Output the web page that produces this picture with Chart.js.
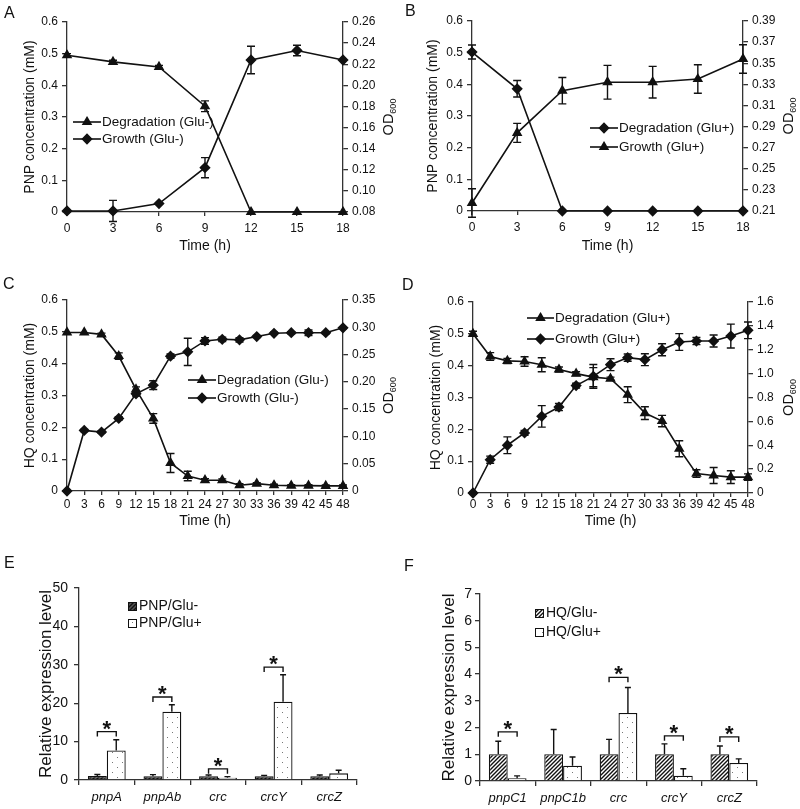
<!DOCTYPE html>
<html>
<head>
<meta charset="utf-8">
<script src="https://cdn.jsdelivr.net/npm/chart.js@4.4.0/dist/chart.umd.min.js"></script>
<style>
  html, body { margin: 0; padding: 0; background: #fff; }
  #fig { position: relative; width: 800px; height: 809px; overflow: hidden;
         font-family: "Liberation Sans", Arial, sans-serif; color: #111; }
  #fig canvas { position: absolute; }
  .tag { position: absolute; font-size: 16px; line-height: 16px; }
</style>
</head>
<body>
<div id="fig">
  <canvas id="chartA" width="400" height="265" style="left:0;top:0"></canvas>
  <canvas id="chartB" width="400" height="265" style="left:400px;top:0"></canvas>
  <canvas id="chartC" width="400" height="270" style="left:0;top:270px"></canvas>
  <canvas id="chartD" width="400" height="270" style="left:400px;top:270px"></canvas>
  <canvas id="chartE" width="400" height="269" style="left:0;top:540px"></canvas>
  <canvas id="chartF" width="400" height="269" style="left:400px;top:540px"></canvas>
  <div class="tag" style="left:4px;top:5px">A</div>
  <div class="tag" style="left:405px;top:3px">B</div>
  <div class="tag" style="left:3px;top:276px">C</div>
  <div class="tag" style="left:402px;top:277px">D</div>
  <div class="tag" style="left:4px;top:555px">E</div>
  <div class="tag" style="left:404px;top:558px">F</div>
</div>
<script>
// time points (h)
const timesAB = [0, 3, 6, 9, 12, 15, 18];
const timesCD = [0, 3, 6, 9, 12, 15, 18, 21, 24, 27, 30, 33, 36, 39, 42, 45, 48];

// A: PNP, Glu-
const degA = [0.495, 0.474, 0.458, 0.334, 0, 0, 0];
const degAErr = [0.005, 0.005, 0.005, 0.017, 0, 0, 0];
const growA = [0.081, 0.081, 0.088, 0.122, 0.224, 0.233, 0.224];
const growAErr = [0, 0.010, 0, 0.0095, 0.013, 0.005, 0];

// B: PNP, Glu+
const degB = [0.502, 0.386, 0, 0, 0, 0, 0];
const degBErr = [0.022, 0.026, 0, 0, 0, 0, 0];
const growB = [0.2176, 0.284, 0.324, 0.332, 0.332, 0.335, 0.354];
const growBErr = [0.0135, 0.009, 0.0125, 0.016, 0.015, 0.0135, 0.0135];

// C: HQ, Glu-
const degC = [0.498, 0.498, 0.492, 0.424, 0.319, 0.228, 0.088, 0.047, 0.034, 0.034, 0.018, 0.023, 0.018, 0.017, 0.017, 0.016, 0.016];
const degCErr = [0, 0, 0.004, 0.01, 0.008, 0.015, 0.03, 0.015, 0.005, 0.004, 0.005, 0.003, 0.003, 0.003, 0.003, 0.003, 0.003];
const growC = [0, 0.111, 0.108, 0.133, 0.178, 0.194, 0.247, 0.255, 0.275, 0.278, 0.277, 0.283, 0.289, 0.29, 0.29, 0.29, 0.299];
const growCErr = [0, 0.002, 0.002, 0.003, 0.004, 0.008, 0.004, 0.025, 0.006, 0.004, 0.004, 0.002, 0.002, 0.002, 0.005, 0.002, 0.002];

// D: HQ, Glu+
const degD = [0.5, 0.429, 0.415, 0.413, 0.403, 0.388, 0.375, 0.364, 0.359, 0.309, 0.251, 0.226, 0.139, 0.061, 0.055, 0.05, 0.05];
const degDErr = [0.008, 0.012, 0.008, 0.015, 0.022, 0.008, 0.006, 0.03, 0.005, 0.025, 0.02, 0.018, 0.025, 0.012, 0.025, 0.02, 0.01];
const growD = [0, 0.279, 0.4, 0.503, 0.642, 0.72, 0.9, 0.977, 1.075, 1.134, 1.117, 1.2, 1.265, 1.273, 1.273, 1.315, 1.363];
const growDErr = [0.01, 0.03, 0.07, 0.02, 0.09, 0.03, 0.02, 0.1, 0.05, 0.03, 0.05, 0.05, 0.07, 0.03, 0.05, 0.1, 0.07];

// E: relative expression, PNP
const genesE = ['pnpA', 'pnpAb', 'crc', 'crcY', 'crcZ'];
const pnpMinus = [1.04, 1.0, 1.0, 1.0, 1.0];
const pnpMinusErr = [0.4, 0.4, 0.3, 0.2, 0.3];
const pnpPlus = [7.7, 17.8, 0.6, 20.4, 1.73];
const pnpPlusErr = [2.8, 1.8, 0.27, 7.0, 0.8];
const sigE = [12.6, 21.6, 2.9, 29.4, null];

// F: relative expression, HQ
const genesF = ['pnpC1', 'pnpC1b', 'crc', 'crcY', 'crcZ'];
const hqMinus = [1, 1, 1, 1, 1];
const hqMinusErr = [0.49, 0.93, 0.56, 0.39, 0.31];
const hqPlus = [0.1, 0.575, 2.55, 0.2, 0.675];
const hqPlusErr = [0.09, 0.325, 0.95, 0.26, 0.155];
const sigF = [1.84, null, 3.88, 1.69, 1.65];

const INK = '#111';
const AXIS = '#333';
const FONT = '"Liberation Sans", Arial, sans-serif';
Chart.defaults.font.family = FONT;
Chart.defaults.color = '#111';
Chart.defaults.animation = false;

function valueOf(d) { return (d !== null && typeof d === 'object') ? d.y : d; }

// vertical error bars, both directions for lines, upward only for bars
const errBars = {
  id: 'errBars',
  afterDatasetsDraw(chart, args, opts) {
    const ctx = chart.ctx;
    const upOnly = chart.config.type === 'bar';
    chart.data.datasets.forEach((ds, i) => {
      if (!ds.errors) return;
      const meta = chart.getDatasetMeta(i);
      const ys = chart.scales[meta.yAxisID];
      ctx.save();
      ctx.strokeStyle = INK;
      ctx.lineWidth = 1.4;
      meta.data.forEach((el, j) => {
        const e = ds.errors[j];
        if (!e) return;
        const v = valueOf(ds.data[j]);
        const top = ys.getPixelForValue(v + e);
        const bot = upOnly ? ys.getPixelForValue(v) : ys.getPixelForValue(v - e);
        const w = opts.cap || 3.5;
        ctx.beginPath();
        ctx.moveTo(el.x, bot); ctx.lineTo(el.x, top);
        ctx.moveTo(el.x - w, top); ctx.lineTo(el.x + w, top);
        if (!upOnly) { ctx.moveTo(el.x - w, bot); ctx.lineTo(el.x + w, bot); }
        ctx.stroke();
      });
      ctx.restore();
    });
  }
};

// line + marker legend drawn inside the plot
const lineKey = {
  id: 'lineKey',
  afterDraw(chart, args, o) {
    if (!o || o.x == null) return;
    const ctx = chart.ctx;
    chart.data.datasets.forEach((ds, i) => {
      const y = o.y[i];
      ctx.save();
      ctx.strokeStyle = INK; ctx.fillStyle = INK; ctx.lineWidth = 1.6;
      ctx.beginPath(); ctx.moveTo(o.x, y); ctx.lineTo(o.x + o.len, y); ctx.stroke();
      Chart.helpers.drawPoint(ctx, { pointStyle: ds.pointStyle, radius: ds.pointRadius, borderWidth: 1 }, o.x + o.len / 2, y);
      ctx.font = '13.5px ' + FONT;
      ctx.fillStyle = '#111';
      ctx.textBaseline = 'middle';
      ctx.fillText(ds.label, o.x + o.len + 1, y + 0.5);
      ctx.restore();
    });
  }
};

// OD600 title on the right axis (with subscript)
const odTitle = {
  id: 'odTitle',
  afterDraw(chart, args, o) {
    if (!o || !o.show) return;
    const ctx = chart.ctx;
    const a = chart.chartArea;
    ctx.save();
    ctx.translate(chart.width - o.off, (a.top + a.bottom) / 2);
    ctx.rotate(-Math.PI / 2);
    ctx.fillStyle = '#111';
    ctx.textBaseline = 'alphabetic';
    ctx.font = '14.5px ' + FONT;
    const big = ctx.measureText('OD').width;
    ctx.font = '9px ' + FONT;
    const small = ctx.measureText('600').width;
    const x0 = -(big + small) / 2;
    ctx.font = '14.5px ' + FONT;
    ctx.fillText('OD', x0, 5);
    ctx.font = '9px ' + FONT;
    ctx.fillText('600', x0 + big, 8);
    ctx.restore();
  }
};

// square swatch legend for bar panels
const boxKey = {
  id: 'boxKey',
  afterDraw(chart, args, o) {
    if (!o || o.x == null) return;
    const ctx = chart.ctx;
    chart.data.datasets.forEach((ds, i) => {
      const y = o.y[i];
      ctx.save();
      ctx.fillStyle = ds.backgroundColor;
      ctx.fillRect(o.x, y - 4, 8, 8);
      ctx.strokeStyle = INK; ctx.lineWidth = 1;
      ctx.strokeRect(o.x + 0.5, y - 3.5, 8, 8);
      ctx.font = '14px ' + FONT;
      ctx.fillStyle = '#111';
      ctx.textBaseline = 'middle';
      ctx.fillText(ds.label, o.x + 11, y + 0.5);
      ctx.restore();
    });
  }
};

// significance brackets with asterisk
const sigMarks = {
  id: 'sigMarks',
  afterDatasetsDraw(chart, args, o) {
    if (!o || !o.values) return;
    const ctx = chart.ctx;
    const m0 = chart.getDatasetMeta(0), m1 = chart.getDatasetMeta(1);
    const ys = chart.scales.y;
    ctx.save();
    ctx.strokeStyle = INK; ctx.fillStyle = INK; ctx.lineWidth = 1.4;
    ctx.font = 'bold 22px ' + FONT;
    ctx.textAlign = 'center';
    ctx.textBaseline = 'alphabetic';
    const drop = ctx.measureText('*').actualBoundingBoxDescent;
    o.values.forEach((v, i) => {
      if (v == null) return;
      const x1 = m0.data[i].x, x2 = m1.data[i].x, y = ys.getPixelForValue(v);
      ctx.beginPath();
      ctx.moveTo(x1, y + 5); ctx.lineTo(x1, y); ctx.lineTo(x2, y); ctx.lineTo(x2, y + 5);
      ctx.stroke();
      ctx.fillText('*', (x1 + x2) / 2, y - 2 - drop);
    });
    ctx.restore();
  }
};

Chart.register(errBars, lineKey, odTitle, boxKey, sigMarks);

function points(xs, ys) { return xs.map((x, i) => ({ x: x, y: ys[i] })); }

function axisGrid(len) {
  return { display: true, drawOnChartArea: false, drawTicks: true, tickLength: len, color: AXIS, lineWidth: 1.3 };
}

function fixed(d) { return v => (v === 0 ? '0' : v.toFixed(d)); }

function renderLine(canvasId, cfg) {
  const ctx = document.getElementById(canvasId).getContext('2d');
  const line = (label, data, errs, style, axis) => ({
    label: label, data: data, errors: errs, yAxisID: axis,
    pointStyle: style, pointRadius: 4.5, pointBackgroundColor: INK, pointBorderColor: INK,
    borderColor: INK, borderWidth: 1.6, tension: 0, clip: false
  });
  return new Chart(ctx, {
    type: 'line',
    data: {
      datasets: [
        line(cfg.names[0], cfg.s1, cfg.e1, cfg.styles[0], 'y'),
        line(cfg.names[1], cfg.s2, cfg.e2, cfg.styles[1], 'y2')
      ]
    },
    options: {
      responsive: false,
      layout: { padding: { top: cfg.top, bottom: 0, left: 0, right: 0 } },
      scales: {
        x: {
          type: 'linear', min: 0, max: cfg.xMax,
          ticks: { stepSize: 3, autoSkip: false, maxRotation: 0, padding: cfg.xPad, font: { size: 12 } },
          grid: axisGrid(4), border: { color: AXIS, width: 1.3 },
          title: { display: true, text: 'Time (h)', font: { size: 14 }, padding: { top: 0, bottom: 10 } },
          afterFit: s => { s.height = cfg.xh; }
        },
        y: {
          position: 'left', min: 0, max: 0.6,
          ticks: { stepSize: 0.1, padding: 4, font: { size: 12 }, callback: fixed(1) },
          grid: axisGrid(5), border: { color: AXIS, width: 1.3 },
          title: { display: true, text: cfg.yTitle, font: { size: 14 }, padding: { top: cfg.titlePad, bottom: 0 } },
          afterFit: s => { s.width = cfg.lw; }
        },
        y2: {
          position: 'right', min: cfg.r[0], max: cfg.r[1],
          ticks: { stepSize: cfg.r[2], padding: 4, font: { size: 12 }, callback: fixed(cfg.r[3]) },
          grid: axisGrid(5), border: { color: AXIS, width: 1.3 },
          afterFit: s => { s.width = cfg.rw; }
        }
      },
      plugins: {
        legend: { display: false },
        tooltip: { enabled: false },
        errBars: { cap: 4 },
        lineKey: cfg.key,
        odTitle: { show: true, off: 12 }
      }
    }
  });
}

function hatch(ctx, bg) {
  const c = document.createElement('canvas');
  c.width = 4; c.height = 4;
  const g = c.getContext('2d');
  g.fillStyle = bg; g.fillRect(0, 0, 4, 4);
  g.strokeStyle = INK; g.lineWidth = 1.4;
  g.beginPath();
  g.moveTo(-1, 5); g.lineTo(5, -1);
  g.moveTo(-1, 1); g.lineTo(1, -1);
  g.moveTo(3, 5); g.lineTo(5, 3);
  g.stroke();
  return ctx.createPattern(c, 'repeat');
}

function dotted(ctx) {
  const c = document.createElement('canvas');
  c.width = 10; c.height = 10;
  const g = c.getContext('2d');
  g.fillStyle = '#fff'; g.fillRect(0, 0, 10, 10);
  g.fillStyle = '#777';
  g.fillRect(2, 2, 1, 1);
  g.fillRect(7, 7, 1, 1);
  return ctx.createPattern(c, 'repeat');
}

function renderBars(canvasId, cfg) {
  const ctx = document.getElementById(canvasId).getContext('2d');
  const bar = (label, data, errs, fill) => ({
    label: label, data: data, errors: errs, backgroundColor: fill,
    borderColor: INK, borderWidth: 1.3, barPercentage: 1, categoryPercentage: 0.68
  });
  return new Chart(ctx, {
    type: 'bar',
    data: {
      labels: cfg.labels,
      datasets: [
        bar(cfg.names[0], cfg.s1, cfg.e1, hatch(ctx, cfg.hatchBg)),
        bar(cfg.names[1], cfg.s2, cfg.e2, dotted(ctx))
      ]
    },
    options: {
      responsive: false,
      layout: { padding: { top: cfg.top, bottom: 0, left: 0, right: cfg.right } },
      scales: {
        x: {
          ticks: { padding: 5, font: { size: 13, style: 'italic' } },
          grid: Object.assign(axisGrid(5), { offset: true }), border: { color: AXIS, width: 1.3 },
          afterFit: s => { s.height = cfg.xh; }
        },
        y: {
          min: 0, max: cfg.yMax,
          ticks: { stepSize: cfg.yStep, padding: cfg.tickPad, font: { size: 14 } },
          grid: axisGrid(5), border: { color: AXIS, width: 1.3 },
          title: { display: true, text: 'Relative expression level', font: { size: 17 }, padding: { top: cfg.titlePad, bottom: 0 } },
          afterFit: s => { s.width = cfg.lw; }
        }
      },
      plugins: {
        legend: { display: false },
        tooltip: { enabled: false },
        errBars: { cap: 3 },
        boxKey: cfg.key,
        sigMarks: { values: cfg.sig }
      }
    }
  });
}

renderLine('chartA', {
  names: ['Degradation (Glu-)', 'Growth (Glu-)'], styles: ['triangle', 'rectRot'],
  s1: points(timesAB, degA), e1: degAErr, s2: points(timesAB, growA), e2: growAErr,
  xMax: 18, r: [0.08, 0.26, 0.02, 2], yTitle: 'PNP concentration (mM)',
  top: 22, xh: 53, xPad: 5, lw: 67, rw: 57, titlePad: 22,
  key: { x: 73, len: 28, y: [122, 139] }
});

renderLine('chartB', {
  names: ['Degradation (Glu+)', 'Growth (Glu+)'], styles: ['rectRot', 'triangle'],
  s1: points(timesAB, degB), e1: degBErr, s2: points(timesAB, growB), e2: growBErr,
  xMax: 18, r: [0.21, 0.39, 0.02, 2], yTitle: 'PNP concentration (mM)',
  top: 21, xh: 54, xPad: 5, lw: 72, rw: 57, titlePad: 25,
  key: { x: 190, len: 28, y: [128, 147] }
});

renderLine('chartC', {
  names: ['Degradation (Glu-)', 'Growth (Glu-)'], styles: ['triangle', 'rectRot'],
  s1: points(timesCD, degC), e1: degCErr, s2: points(timesCD, growC), e2: growCErr,
  xMax: 48, r: [0, 0.35, 0.05, 2], yTitle: 'HQ concentration (mM)',
  top: 30, xh: 49, xPad: 2, lw: 67, rw: 57, titlePad: 22,
  key: { x: 188, len: 28, y: [110, 128] }
});

renderLine('chartD', {
  names: ['Degradation (Glu+)', 'Growth (Glu+)'], styles: ['triangle', 'rectRot'],
  s1: points(timesCD, degD), e1: degDErr, s2: points(timesCD, growD), e2: growDErr,
  xMax: 48, r: [0, 1.6, 0.2, 1], yTitle: 'HQ concentration (mM)',
  top: 32, xh: 47, xPad: 0, lw: 73, rw: 52, titlePad: 28,
  key: { x: 127, len: 27, y: [48, 69] }
});

renderBars('chartE', {
  labels: genesE, names: ['PNP/Glu-', 'PNP/Glu+'],
  s1: pnpMinus, e1: pnpMinusErr, s2: pnpPlus, e2: pnpPlusErr, sig: sigE,
  hatchBg: '#555', yMax: 50, yStep: 5,
  top: 48, right: 43, xh: 29, lw: 79, tickPad: 6, titlePad: 36,
  key: { x: 128, y: [66, 83] }
});

renderBars('chartF', {
  labels: genesF, names: ['HQ/Glu-', 'HQ/Glu+'],
  s1: hqMinus, e1: hqMinusErr, s2: hqPlus, e2: hqPlusErr, sig: sigF,
  hatchBg: '#fff', yMax: 7, yStep: 1,
  top: 54, right: 43, xh: 28, lw: 80, tickPad: 3, titlePad: 39,
  key: { x: 135, y: [73, 92] }
});
</script>
</body>
</html>
